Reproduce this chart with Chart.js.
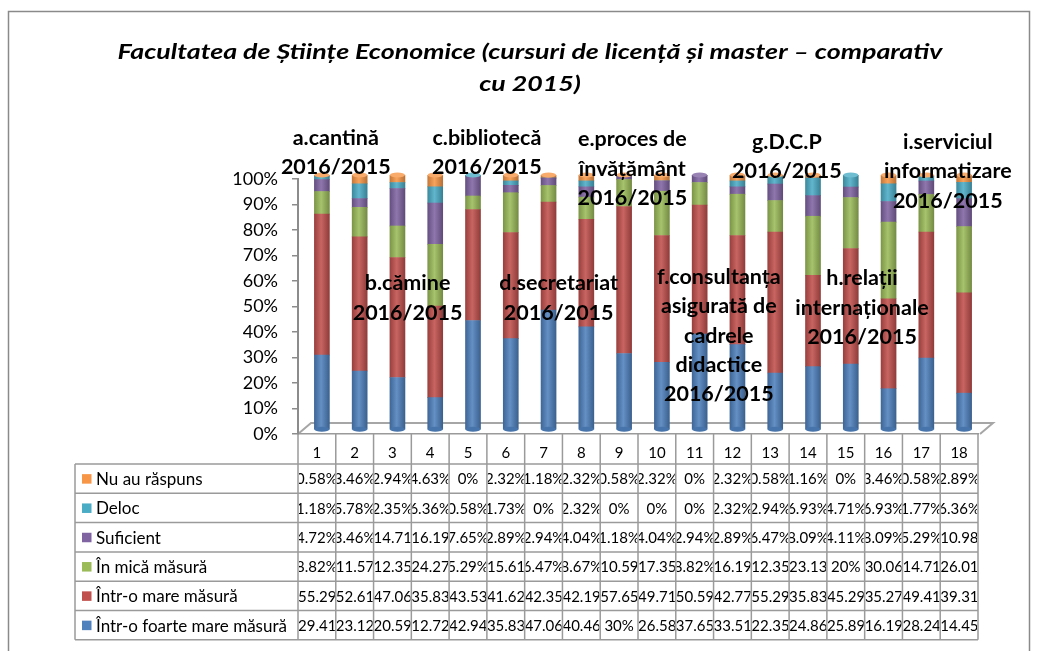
<!DOCTYPE html>
<html><head><meta charset="utf-8">
<script src="https://cdn.jsdelivr.net/npm/chart.js@4/dist/chart.umd.min.js"></script>
<style>html,body{margin:0;padding:0;background:#fff;} canvas{display:block;}</style>
</head><body>
<canvas id="c" width="1037" height="651"></canvas>
<script>
// ---------- DATA ----------
const categories = ['1','2','3','4','5','6','7','8','9','10','11','12','13','14','15','16','17','18'];
const seriesNames = ['Într-o foarte mare măsură','Într-o mare măsură','În mică măsură','Suficient','Deloc','Nu au răspuns'];
const foarteMare = [29.41,23.12,20.59,12.72,42.94,35.83,47.06,40.46,30,26.58,37.65,33.51,22.35,24.86,25.89,16.19,28.24,14.45];
const mare       = [55.29,52.61,47.06,35.83,43.53,41.62,42.35,42.19,57.65,49.71,50.59,42.77,55.29,35.83,45.29,35.27,49.41,39.31];
const mica       = [8.82,11.57,12.35,24.27,5.29,15.61,6.47,8.67,10.59,17.35,8.82,16.19,12.35,23.13,20,30.06,14.71,26.01];
const suficient  = [4.72,3.46,14.71,16.19,7.65,2.89,2.94,4.04,1.18,4.04,2.94,2.89,6.47,8.09,4.11,8.09,5.29,10.98];
const deloc      = [1.18,5.78,2.35,6.36,0.58,1.73,0,2.32,0,0,0,2.32,2.94,6.93,4.71,6.93,1.77,6.36];
const nuRaspuns  = [0.58,3.46,2.94,4.63,0,2.32,1.18,2.32,0.58,2.32,0,2.32,0.58,1.16,0,3.46,0.58,2.89];
const yTickValues = [0,10,20,30,40,50,60,70,80,90,100];
const titleLines = ['Facultatea de Științe Economice (cursuri de licență și master – comparativ','cu 2015)'];
const groupLabels = [
  ['a.cantină','2016/2015'],
  ['b.cămine','2016/2015'],
  ['c.bibliotecă','2016/2015'],
  ['d.secretariat','2016/2015'],
  ['e.proces de','învățământ','2016/2015'],
  ['f.consultanța','asigurată de','cadrele','didactice','2016/2015'],
  ['g.D.C.P','2016/2015'],
  ['h.relații','internaționale','2016/2015'],
  ['i.serviciul','informatizare','2016/2015']
];

// ---------- STYLE ----------
const colors = ['#4F81BD','#C0504D','#9BBB59','#8064A2','#4BACC6','#F79646'];
// label anchor: [category position, y value of first line]
const groupPos = [[0.5,116],[2.4,59],[4.5,116],[6.4,59],[8.35,115.5],[10.64,61.5],[12.44,114.5],[14.43,61],[16.7,114.5]];
const FONT = 'Lato, "Open Sans", sans-serif';

function shade(hex, f){
  const n = parseInt(hex.slice(1),16);
  let r=(n>>16)&255,g=(n>>8)&255,b=n&255;
  if(f<0){r=Math.round(r*(1+f));g=Math.round(g*(1+f));b=Math.round(b*(1+f));}
  else{r=Math.round(r+(255-r)*f);g=Math.round(g+(255-g)*f);b=Math.round(b+(255-b)*f);}
  return 'rgb('+r+','+g+','+b+')';
}
const OFF_X = 5, OFF_Y = -4, BAR_W = 15;

const seriesData = [foarteMare, mare, mica, suficient, deloc, nuRaspuns];
const datasets = seriesData.map((d,k)=>({
  label: seriesNames[k],
  data: d,
  barThickness: BAR_W,
  borderWidth: 0,
  backgroundColor: (ctx)=>{
    const chart = ctx.chart;
    if(!chart.chartArea || ctx.dataIndex===undefined) return colors[k];
    const x = chart.scales.x.getPixelForValue(ctx.dataIndex);
    const g = chart.ctx.createLinearGradient(x-BAR_W/2,0,x+BAR_W/2,0);
    g.addColorStop(0, shade(colors[k],-0.2));
    g.addColorStop(0.45, shade(colors[k],0.12));
    g.addColorStop(1, shade(colors[k],-0.25));
    return g;
  }
}));

const decor = {
  id:'decor',
  beforeDraw(chart){
    const c = chart.ctx;
    c.save();
    c.strokeStyle = '#8a8a8a'; c.lineWidth = 1.5;
    c.strokeRect(8.5, 11.5, 1021, 700);
    c.fillStyle = '#000';
    c.font = 'italic bold 21px ' + FONT;
    c.textAlign = 'center'; c.textBaseline = 'middle';
    const w0 = c.measureText(titleLines[0]).width;
    const sx = 825 / w0;
    c.save(); c.translate(530, 52); c.scale(sx, 1); c.fillText(titleLines[0], 0, 0); c.restore();
    c.save(); c.translate(530, 84); c.scale(sx, 1); c.fillText(titleLines[1], 0, 0); c.restore();
    const a = chart.chartArea;
    c.strokeStyle = '#a6a6a6'; c.lineWidth = 2;
    c.beginPath();
    c.moveTo(a.left, a.bottom);
    c.lineTo(a.left+13, a.bottom-11);
    c.lineTo(a.right+15, a.bottom-11);
    c.lineTo(a.right+2, a.bottom);
    c.stroke();
    c.restore();
  },
  beforeDatasetsDraw(chart){
    chart.ctx.save();
    chart.ctx.translate(OFF_X, OFF_Y);
  },
  afterDatasetsDraw(chart){
    const c = chart.ctx;
    const n = categories.length;
    for(let i=0;i<n;i++){
      let top=-1;
      for(let k=seriesData.length-1;k>=0;k--){ if(seriesData[k][i]>0){top=k;break;} }
      const metaTop = chart.getDatasetMeta(top).data[i];
      const metaBot = chart.getDatasetMeta(0).data[i];
      c.fillStyle = shade(colors[0],-0.1);
      c.beginPath(); c.ellipse(metaBot.x, metaBot.base, BAR_W/2, 2.5, 0, 0, Math.PI*2); c.fill();
      c.fillStyle = shade(colors[top],0.2);
      c.beginPath(); c.ellipse(metaTop.x, metaTop.y, BAR_W/2, 2.5, 0, 0, Math.PI*2); c.fill();
    }
    c.restore();
  },
  afterDraw(chart){
    const c = chart.ctx;
    const a = chart.chartArea;
    const xs = chart.scales.x, ys = chart.scales.y;
    const n = categories.length;
    const colW = (a.right - a.left)/n;
    const tableTop = 464, rowH = 29.3, tableLeft = 75;
    const tableBottom = tableTop + rowH*6;
    c.save();
    c.strokeStyle = '#9a9a9a'; c.lineWidth = 1.5;
    for(let k=0;k<=n;k++){
      const x = a.left + k*colW;
      c.beginPath(); c.moveTo(x, a.bottom); c.lineTo(x, tableBottom); c.stroke();
    }
    for(let r=0;r<=6;r++){
      const y = tableTop + r*rowH;
      c.beginPath(); c.moveTo(tableLeft, y); c.lineTo(a.right, y); c.stroke();
    }
    c.beginPath(); c.moveTo(tableLeft, tableTop); c.lineTo(tableLeft, tableBottom); c.stroke();
    for(let r=0;r<6;r++){
      const k = 5 - r;
      const y0 = tableTop + r*rowH, yc = y0 + rowH/2;
      c.fillStyle = colors[k];
      c.fillRect(82, yc-4.5, 9.5, 9.5);
      c.fillStyle = '#000';
      c.font = '17px ' + FONT;
      c.textAlign = 'left'; c.textBaseline = 'middle';
      c.fillText(seriesNames[k], 96, yc+1);
      c.font = '15px ' + FONT;
      for(let i=0;i<n;i++){
        const x0 = a.left + i*colW;
        const txt = seriesData[k][i] + '%';
        c.save();
        c.beginPath(); c.rect(x0+1, y0+1, colW-2, rowH-2); c.clip();
        const w = c.measureText(txt).width;
        if(w - colW <= 8){ c.textAlign='center'; c.fillText(txt, x0+colW/2, yc+1); }
        else { c.textAlign='left'; c.fillText(txt, x0, yc+1); }
        c.restore();
      }
    }
    c.fillStyle = '#000';
    c.font = 'bold 21.5px ' + FONT;
    c.textAlign = 'center'; c.textBaseline = 'middle';
    groupLabels.forEach((lines, j)=>{
      const p = groupPos[j];
      const x = xs.getPixelForValue(0) + p[0]*colW;
      const y = ys.getPixelForValue(p[1]);
      lines.forEach((t, li)=> c.fillText(t, x, y + li*29.3));
    });
    c.restore();
  }
};

new Chart(document.getElementById('c'), {
  type: 'bar',
  data: { labels: categories, datasets },
  options: {
    responsive: false,
    animation: false,
    layout: { padding: { top: 179, right: 59, left: 0, bottom: 0 } },
    plugins: { legend: { display: false }, title: { display: false }, tooltip: { enabled: false } },
    scales: {
      x: {
        stacked: true,
        grid: { display: false, drawTicks: false },
        border: { display: true, color: '#9a9a9a', width: 1.5 },
        ticks: { padding: 10, color: '#000', font: { family: FONT, size: 15 } },
        afterFit: (s)=>{ s.height = 651 - 434; }
      },
      y: {
        stacked: true,
        min: 0, max: 100,
        afterBuildTicks: (s)=>{ s.ticks = yTickValues.map(v=>({value:v})); },
        grid: { drawOnChartArea: false, drawTicks: true, tickLength: 6, color: '#8c8c8c', lineWidth: 1.5 },
        border: { display: true, color: '#8c8c8c', width: 2 },
        ticks: { padding: 14, color: '#000', font: { family: FONT, size: 18 }, callback: (v)=> v + '%' },
        afterFit: (s)=>{ s.width = 298; }
      }
    }
  },
  plugins: [decor]
});
</script></body></html>
